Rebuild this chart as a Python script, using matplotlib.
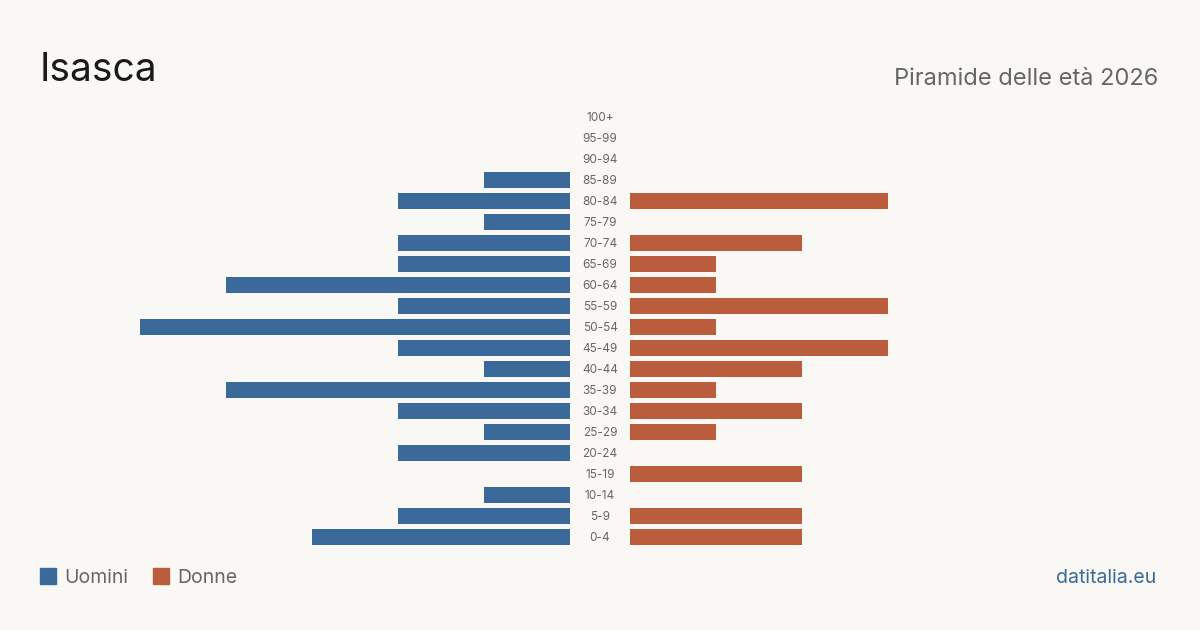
import matplotlib
matplotlib.use("Agg")
import matplotlib.pyplot as plt
from matplotlib.patches import Rectangle

plt.rcParams['font.family'] = ['Inter', 'DejaVu Sans']

# age groups from youngest to oldest
age_groups = ["0-4", "5-9", "10-14", "15-19", "20-24", "25-29", "30-34", "35-39",
              "40-44", "45-49", "50-54", "55-59", "60-64", "65-69", "70-74",
              "75-79", "80-84", "85-89", "90-94", "95-99", "100+"]
uomini = [3, 2, 1, 0, 2, 1, 2, 4, 1, 2, 5, 2, 4, 2, 2, 1, 2, 1, 0, 0, 0]
donne = [2, 2, 0, 2, 0, 1, 2, 1, 2, 3, 1, 3, 1, 1, 2, 0, 3, 0, 0, 0, 0]

title = "Isasca"
subtitle = "Piramide delle età 2026"
source = "datitalia.eu"

BG = "#f9f8f4"
BLUE = "#3b6a9a"
ORANGE = "#b95d3c"
GREY = "#666666"

W, H = 1200, 630
fig = plt.figure(figsize=(12, 6.3), dpi=100, facecolor=BG)

def px_axes(x0, x1, ytop, ybot):
    return fig.add_axes([x0 / W, 1 - ybot / H, (x1 - x0) / W, (ybot - ytop) / H])

unit = 86.0  # pixels per person
ytop, ybot = 106.5, 547.5
axL = px_axes(40, 570, ytop, ybot)
axR = px_axes(630, 1160, ytop, ybot)

ypos = list(range(len(age_groups)))
axL.barh(ypos, uomini, height=0.79, color=BLUE)
axR.barh(ypos, donne, height=0.79, color=ORANGE)
axL.set_xlim(530 / unit, 0)
axR.set_xlim(0, 530 / unit)
for ax in (axL, axR):
    ax.set_ylim(-0.5, len(age_groups) - 0.5)
    ax.axis("off")

for y, lab in zip(ypos, age_groups):
    axR.text(-30 / unit, y - 0.05, lab, ha="center", va="center", fontsize=8.5,
             color=GREY, clip_on=False)

fig.text(40 / W, 1 - 81 / H, title, fontsize=28, color="#1a1a1a", ha="left", va="baseline")
fig.text(1158 / W, 1 - 85 / H, subtitle, fontsize=17, color=GREY, ha="right", va="baseline")

# legend
for x0, col, lab in [(40, BLUE, "Uomini"), (153, ORANGE, "Donne")]:
    fig.patches.append(Rectangle((x0 / W, 1 - 584 / H), 16 / W, 16 / H,
                                 transform=fig.transFigure, color=col))
    fig.text((x0 + 24) / W, 1 - 583 / H, lab, fontsize=14, color=GREY,
             ha="left", va="baseline")

fig.text(1156 / W, 1 - 583 / H, source, fontsize=14, color=BLUE, ha="right", va="baseline")

fig.savefig("out.png", dpi=100, facecolor=BG)
